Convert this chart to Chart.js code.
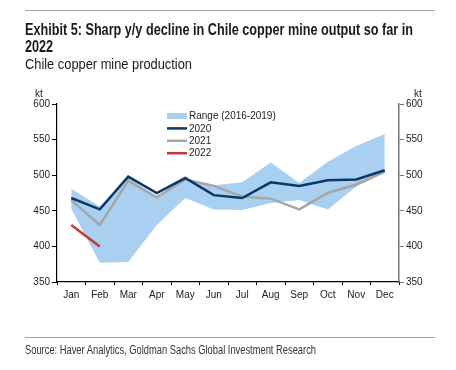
<!DOCTYPE html>
<html>
<head>
<meta charset="utf-8">
<script src="https://cdn.jsdelivr.net/npm/chart.js@4"></script>
<style>
  html, body { margin: 0; padding: 0; background: #fff; width: 456px; height: 370px; overflow: hidden; }
  #wrap { position: relative; width: 456px; height: 370px; }
  canvas { position: absolute; left: 0; top: 0; }
  .rule { position: absolute; left: 25px; width: 410px; height: 0; border-top: 1.5px solid #a6a6a6; }
  .txt { position: absolute; left: 25px; font-family: "Liberation Sans", Arial, sans-serif; color: #1a1a1a; white-space: nowrap; transform-origin: 0 0; line-height: 1; }
  .b { font-weight: bold; font-size: 16px; }
  #t1 { top: 22px; }
  #t2 { top: 39px; }
  #sub { top: 56px; font-size: 15.5px; }
  #src { top: 344px; font-size: 12.5px; color: #333; }
</style>
</head>
<body>
<div id="wrap">
  <canvas id="c" width="456" height="370"></canvas>
  <div class="rule" style="top:10px"></div>
  <div class="txt b" id="t1">Exhibit 5: Sharp y/y decline in Chile copper mine output so far in</div>
  <div class="txt b" id="t2">2022</div>
  <div class="txt" id="sub">Chile copper mine production</div>
  <div class="rule" style="top:337px"></div>
  <div class="txt" id="src">Source: Haver Analytics, Goldman Sachs Global Investment Research</div>
</div>
<script>
// condensed look: squeeze text horizontally to the reference widths
function squeeze(id, target, otherIds) {
  const el = document.getElementById(id);
  const k = target / el.getBoundingClientRect().width;
  el.style.transform = "scaleX(" + k + ")";
  (otherIds || []).forEach(o => document.getElementById(o).style.transform = "scaleX(" + k + ")");
}
squeeze("t1", 388, ["t2"]);
squeeze("sub", 167);
squeeze("src", 291);

const months = ["Jan","Feb","Mar","Apr","May","Jun","Jul","Aug","Sep","Oct","Nov","Dec"];
const rangeLow  = [453, 377, 378, 430, 468, 452, 451, 461, 465, 452, 484, 503];
const rangeHigh = [481, 456, 497, 470, 495, 486, 490, 518, 489, 519, 541, 558];
const y2020 = [468, 452, 498, 475, 496, 472, 468, 490, 485, 493, 494, 507];
const y2021 = [465, 430, 492, 469, 494, 485, 470, 467, 452, 475, 487, 505];
const y2022 = [430, 400];
const yTicks = [350, 400, 450, 500, 550, 600];

const legendItems = [
  { label: "Range (2016-2019)", color: "#a9d0f1", w: 6 },
  { label: "2020", color: "#0c3866", w: 2.5 },
  { label: "2021", color: "#a6a6a6", w: 2.5 },
  { label: "2022", color: "#c0393b", w: 2.5 }
];

const extras = {
  id: "extras",
  afterDraw(chart) {
    const ctx = chart.ctx;
    ctx.save();
    ctx.font = "10px 'Liberation Sans', Arial, sans-serif";
    ctx.fillStyle = "#222";
    ctx.textBaseline = "middle";
    ctx.textAlign = "left";
    ctx.fillText("kt", 35, 94);
    ctx.fillText("kt", 414, 94);
    legendItems.forEach((it, i) => {
      const y = 116 + i * 12.4;
      ctx.strokeStyle = it.color;
      ctx.lineWidth = it.w;
      ctx.beginPath();
      ctx.moveTo(167, y);
      ctx.lineTo(187, y);
      ctx.stroke();
      ctx.fillStyle = "#222";
      ctx.fillText(it.label, 189, y + 0.5);
    });
    ctx.restore();
  }
};

new Chart(document.getElementById("c"), {
  type: "line",
  data: {
    labels: months,
    datasets: [
      { label: "2022", data: y2022, borderColor: "#c0393b", borderWidth: 2.5, pointRadius: 0, fill: false, tension: 0, order: 0 },
      { label: "2020", data: y2020, borderColor: "#0c3866", borderWidth: 2.5, pointRadius: 0, fill: false, tension: 0, order: 1 },
      { label: "2021", data: y2021, borderColor: "#a6a6a6", borderWidth: 2.5, pointRadius: 0, fill: false, tension: 0, order: 2 },
      { label: "low", data: rangeLow, borderColor: "rgba(0,0,0,0)", borderWidth: 0, pointRadius: 0, fill: false, tension: 0, order: 4 },
      { label: "Range (2016-2019)", data: rangeHigh, borderColor: "rgba(0,0,0,0)", borderWidth: 0, backgroundColor: "#a9d0f1", pointRadius: 0, fill: 3, tension: 0, order: 3 }
    ]
  },
  options: {
    responsive: false,
    animation: false,
    layout: { padding: { left: 0, right: 0, top: 104, bottom: 0 } },
    plugins: { legend: { display: false }, tooltip: { enabled: false } },
    scales: {
      x: {
        offset: true,
        grid: { display: true, drawOnChartArea: false, offset: true, tickLength: 3, color: "#000" },
        border: { color: "#000", width: 1.2 },
        ticks: { color: "#222", font: { family: "'Liberation Sans', Arial, sans-serif", size: 10 }, padding: 4, maxRotation: 0, autoSkip: false },
        afterFit(s) { s.height = 88; }
      },
      y: {
        position: "left",
        min: 350, max: 600,
        afterBuildTicks(s) { s.ticks = yTicks.map(v => ({ value: v })); },
        grid: { drawOnChartArea: false, tickLength: 5, color: "#000" },
        border: { color: "#000", width: 1.2 },
        ticks: { color: "#222", font: { family: "'Liberation Sans', Arial, sans-serif", size: 10 }, padding: 2 },
        afterFit(s) { s.width = 57; }
      },
      y2: {
        position: "right",
        min: 350, max: 600,
        afterBuildTicks(s) { s.ticks = yTicks.map(v => ({ value: v })); },
        grid: { drawOnChartArea: false, tickLength: 5, color: "#777" },
        border: { color: "#777", width: 1.5 },
        ticks: { color: "#222", font: { family: "'Liberation Sans', Arial, sans-serif", size: 10 }, padding: 2 },
        afterFit(s) { s.width = 57; }
      }
    }
  },
  plugins: [extras]
});
</script>
</body>
</html>
